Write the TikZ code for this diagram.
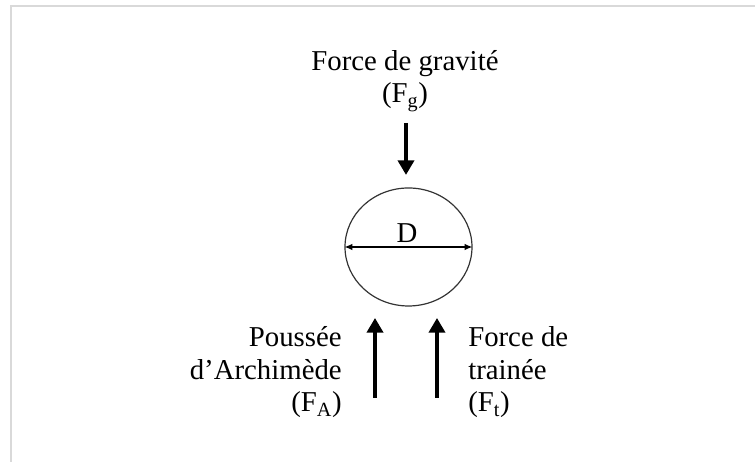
\documentclass[tikz,border=0pt]{standalone}
\usepackage{fontspec}
\setmainfont{Liberation Serif}
\usepackage{tikz}
\usetikzlibrary{arrows.meta,shapes.geometric}

\begin{document}
\begin{tikzpicture}[>=Latex, scale=1,
    forza/.style={line width=3pt, -{Triangle[width=12pt,length=11pt]}},
    etichetta/.style={inner sep=0pt, font=\fontsize{21.7}{24.8}\selectfont}]
  \useasboundingbox (0,0) rectangle (20,12.238);
  % Cornice
  \draw[black!15, line width=1.5pt] (0.291,0) -- (0.291,12.079) -- (20,12.079);

  % Sfera
  \node[draw=black!80, line width=0.9pt, ellipse, inner sep=0pt,
        minimum width=3.364cm, minimum height=3.126cm] (sfera) at (10.821,5.695) {};
  \draw[line width=1.1pt, {Latex[width=5pt,length=6pt]}-{Latex[width=5pt,length=6pt]}]
    (sfera.west) -- (sfera.east);
  \node[etichetta, anchor=base] (diam) at (10.781,5.801) {D};

  % Forza di gravita
  \node[etichetta, anchor=base, align=center] (grav) at (10.728,9.510)
    {Force de gravité\\(F\textsubscript{g})};
  \coordinate (gtop) at (10.755,8.980);
  \coordinate (gtip) at (10.755,7.603);
  \draw[forza] (gtop) -- (gtip);

  % Spinta e trascinamento
  \coordinate (abase) at (9.934,1.695);
  \coordinate (atip) at (9.934,3.815);
  \coordinate (tbase) at (11.576,1.695);
  \coordinate (ttip) at (11.576,3.815);
  \draw[forza] (abase) -- (atip);
  \draw[forza] (tbase) -- (ttip);

  % Etichette
  \node[etichetta, anchor=base east, align=right] (archi) at (9.059,1.325)
    {Poussée\\d’Archimède\\(F\textsubscript{A})};
  \node[etichetta, anchor=base west, align=left] (train) at (12.397,1.325)
    {Force de\\trainée\\(F\textsubscript{t})};
\end{tikzpicture}
\end{document}
